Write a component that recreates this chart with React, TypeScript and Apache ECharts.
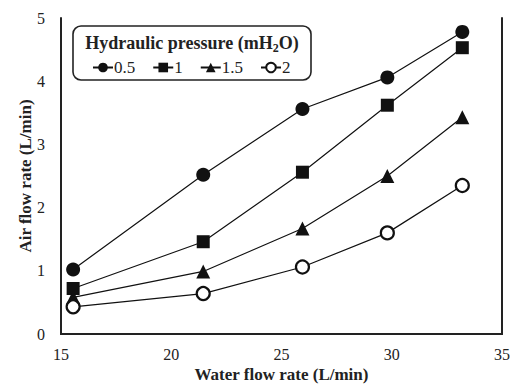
import React, { useEffect, useRef } from "react";
import * as echarts from "echarts";

const waterFlow = [15.55, 21.45, 25.95, 29.8, 33.2];
const s05 = [1.02, 2.52, 3.56, 4.06, 4.78];
const s1 = [0.72, 1.46, 2.56, 3.62, 4.53];
const s15 = [0.58, 0.99, 1.67, 2.5, 3.43];
const s2 = [0.43, 0.64, 1.06, 1.6, 2.35];
const seriesNames = ["0.5", "1", "1.5", "2"];

const FONT = "Liberation Serif";

export default function App() {
  const ref = useRef<HTMLDivElement>(null);
  useEffect(() => {
    document.body.style.margin = "0";
    document.body.style.overflow = "hidden";
    if (!ref.current) return;
    const chart = echarts.init(ref.current, undefined, { renderer: "svg" });
    const mk = (name: string, vals: number[], symbol: string, size: number, hollow = false) => ({
      name,
      type: "line",
      data: waterFlow.map((x, i) => [x, vals[i]]),
      symbol,
      symbolSize: size,
      lineStyle: { color: "#111", width: 1.2 },
      itemStyle: hollow
        ? { color: "#fff", borderColor: "#111", borderWidth: 2.2 }
        : { color: "#111" },
    });
    const hiddenAxis = {
      axisTick: { show: false }, axisLabel: { show: false }, splitLine: { show: false },
      axisLine: { show: true, lineStyle: { color: "#222", width: 2 } },
    };
    chart.setOption({
      animation: false,
      textStyle: { fontFamily: FONT },
      grid: { left: 61, right: 8, top: 18, bottom: 50, outerBoundsMode: "none", containLabel: false },
      xAxis: [
        {
          type: "value", min: 15, max: 35, interval: 5,
          axisLine: { show: true, onZero: false, lineStyle: { color: "#222", width: 2 } },
          axisTick: { show: false }, splitLine: { show: false },
          axisLabel: { color: "#222", fontFamily: FONT, fontSize: 16, margin: 12 },
          name: "Water flow rate (L/min)", nameLocation: "middle", nameGap: 32, nameMoveOverlap: false,
          nameTextStyle: { color: "#222", fontFamily: FONT, fontSize: 17, fontWeight: "bold" },
        },
        { type: "value", min: 15, max: 35, position: "top", ...hiddenAxis },
      ],
      yAxis: [
        {
          type: "value", min: 0, max: 5, interval: 1,
          axisLine: { show: true, onZero: false, lineStyle: { color: "#222", width: 2 } },
          axisTick: { show: false }, splitLine: { show: false },
          axisLabel: { color: "#222", fontFamily: FONT, fontSize: 16, margin: 16 },
          name: "Air flow rate (L/min)", nameLocation: "middle", nameGap: 27, nameRotate: 90, nameMoveOverlap: false,
          nameTextStyle: { color: "#222", fontFamily: FONT, fontSize: 17, fontWeight: "bold" },
        },
        { type: "value", min: 0, max: 5, position: "right", ...hiddenAxis },
      ],
      legend: {
        left: 87, top: 54, itemWidth: 20, itemHeight: 12, itemGap: 17,
        data: seriesNames,
        textStyle: { color: "#222", fontFamily: FONT, fontSize: 17, padding: [0, 0, 0, -4] },
      },
      graphic: [
        {
          type: "rect", shape: { x: 73, y: 26, width: 238, height: 54, r: 8 },
          style: { fill: "#fff", stroke: "#222", lineWidth: 1.6 }, z: 0,
        },
        {
          type: "text", x: 192, y: 43, z: 1,
          style: {
            text: "{a|Hydraulic pressure (mH}{b|2}{a|O)}",
            align: "center", verticalAlign: "middle",
            rich: {
              a: { fontFamily: FONT, fontSize: 18, fontWeight: "bold", fill: "#222" },
              b: { fontFamily: FONT, fontSize: 12, fontWeight: "bold", fill: "#222", padding: [9, 0, 0, 0] },
            },
          },
        },
      ],
      series: [
        mk("0.5", s05, "circle", 14),
        mk("1", s1, "rect", 13),
        mk("1.5", s15, "triangle", 14),
        mk("2", s2, "circle", 13, true),
      ],
    });
    return () => chart.dispose();
  }, []);
  return (
    <div
      ref={ref}
      style={{ position: "fixed", left: 0, top: 0, width: 510, height: 384, background: "#fff" }}
    />
  );
}
